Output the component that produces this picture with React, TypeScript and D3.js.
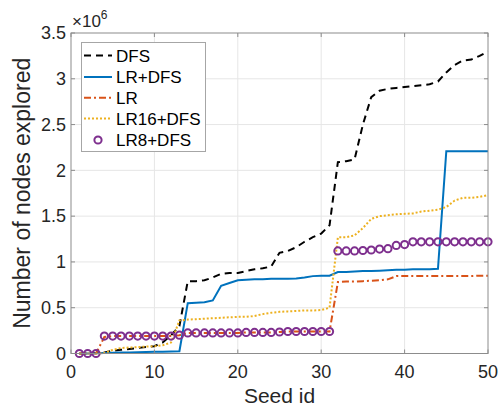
import React, { useEffect, useRef } from "react";
import * as d3 from "d3";

// seed ids 1..50, values in millions of nodes
const seedIds = d3.range(1, 51);

const dfs = [
  0, 0, 0.005, 0.01, 0.03, 0.04, 0.05, 0.06, 0.07, 0.08,
  0.12, 0.2, 0.3, 0.79, 0.79, 0.8, 0.83, 0.87, 0.88, 0.88,
  0.9, 0.92, 0.93, 0.95, 1.1, 1.12, 1.16, 1.22, 1.27, 1.31,
  1.4, 2.09, 2.1, 2.12, 2.5, 2.8, 2.87, 2.89, 2.9, 2.91,
  2.92, 2.93, 2.94, 2.97, 3.07, 3.15, 3.2, 3.21, 3.25, 3.3,
];

const lrDfs = [
  0, 0, 0.002, 0.005, 0.008, 0.01, 0.012, 0.015, 0.017, 0.018,
  0.02, 0.022, 0.025, 0.55, 0.555, 0.56, 0.58, 0.74, 0.77, 0.8,
  0.805, 0.81, 0.81, 0.815, 0.815, 0.815, 0.82, 0.83, 0.845, 0.85,
  0.85, 0.89, 0.89, 0.895, 0.9, 0.9, 0.905, 0.91, 0.915, 0.915,
  0.92, 0.92, 0.92, 0.925, 2.21, 2.21, 2.21, 2.21, 2.21, 2.21,
];

const lr = [
  0, 0, 0, 0.18, 0.19, 0.19, 0.19, 0.19, 0.19, 0.19,
  0.19, 0.19, 0.2, 0.225, 0.225, 0.225, 0.225, 0.225, 0.225, 0.225,
  0.23, 0.23, 0.23, 0.23, 0.235, 0.24, 0.24, 0.24, 0.24, 0.24,
  0.24, 0.78, 0.785, 0.785, 0.79, 0.795, 0.8, 0.81, 0.845, 0.845,
  0.845, 0.845, 0.845, 0.845, 0.845, 0.845, 0.845, 0.845, 0.85, 0.85,
];

const lr16Dfs = [
  0, 0, 0, 0.005, 0.04, 0.06, 0.065, 0.07, 0.075, 0.08,
  0.09, 0.12, 0.36, 0.37, 0.375, 0.38, 0.385, 0.39, 0.395, 0.4,
  0.4, 0.41, 0.43, 0.445, 0.455, 0.46, 0.465, 0.47, 0.47, 0.475,
  0.5, 1.27, 1.27, 1.29, 1.37, 1.47, 1.5, 1.51, 1.52, 1.525,
  1.53, 1.55, 1.56, 1.57, 1.6, 1.67, 1.7, 1.7, 1.71, 1.73,
];

const lr8Dfs = [
  0, 0, 0, 0.19, 0.19, 0.19, 0.19, 0.19, 0.19, 0.19,
  0.19, 0.19, 0.2, 0.225, 0.225, 0.225, 0.225, 0.225, 0.225, 0.225,
  0.23, 0.23, 0.23, 0.23, 0.235, 0.24, 0.24, 0.24, 0.24, 0.24,
  0.24, 1.12, 1.12, 1.12, 1.125, 1.13, 1.14, 1.145, 1.18, 1.19,
  1.22, 1.22, 1.22, 1.22, 1.22, 1.22, 1.22, 1.22, 1.22, 1.22,
];

const xTicks = [0, 10, 20, 30, 40, 50];
const yTicks = [0, 0.5, 1, 1.5, 2, 2.5, 3, 3.5];
const yTickLabels = ["0", "0.5", "1", "1.5", "2", "2.5", "3", "3.5"];

const series = [
  { name: "DFS", values: dfs, color: "#000000", dash: "7,5", marker: false },
  { name: "LR+DFS", values: lrDfs, color: "#0072BD", dash: null, marker: false },
  { name: "LR", values: lr, color: "#D95319", dash: "7,3,2,3", marker: false },
  { name: "LR16+DFS", values: lr16Dfs, color: "#EDB120", dash: "2,2", marker: false },
  { name: "LR8+DFS", values: lr8Dfs, color: "#7E2F8E", dash: null, marker: true },
];

const FONT = "'Liberation Sans', Arial, Helvetica, sans-serif";
const TEXT = "#262626";

export default function App() {
  const ref = useRef<SVGSVGElement>(null);
  const width = 502;
  const height = 407;
  const margin = { top: 33, right: 14, bottom: 53.5, left: 71 };

  useEffect(() => {
    const svg = d3.select(ref.current);
    svg.selectAll("*").remove();

    const x = d3
      .scaleLinear()
      .domain([0, 50])
      .range([margin.left, width - margin.right]);
    const y = d3
      .scaleLinear()
      .domain([0, 3.5])
      .range([height - margin.bottom, margin.top]);

    const x0 = x.range()[0],
      x1 = x.range()[1],
      y0 = y.range()[0],
      y1 = y.range()[1];

    svg.append("rect").attr("width", width).attr("height", height).attr("fill", "#fff");

    // grid
    const grid = svg.append("g").attr("stroke", "#e6e6e6").attr("stroke-width", 1);
    xTicks.slice(1, -1).forEach((t) =>
      grid.append("line").attr("x1", x(t)).attr("x2", x(t)).attr("y1", y0).attr("y2", y1)
    );
    yTicks.slice(1, -1).forEach((t) =>
      grid.append("line").attr("x1", x0).attr("x2", x1).attr("y1", y(t)).attr("y2", y(t))
    );

    // lines
    const line = d3
      .line<number>()
      .x((d, i) => x(seedIds[i]))
      .y((d) => y(d));

    const plot = svg.append("g");
    series.forEach((s) => {
      if (s.marker) {
        plot
          .append("g")
          .selectAll("circle")
          .data(s.values)
          .join("circle")
          .attr("cx", (d, i) => x(seedIds[i]))
          .attr("cy", (d) => y(d))
          .attr("r", 3.6)
          .attr("fill", "none")
          .attr("stroke", s.color)
          .attr("stroke-width", 2);
      } else {
        plot
          .append("path")
          .datum(s.values)
          .attr("d", line)
          .attr("fill", "none")
          .attr("stroke", s.color)
          .attr("stroke-width", 2)
          .attr("stroke-dasharray", s.dash);
      }
    });

    // box + ticks
    const axes = svg.append("g").attr("stroke", "#8c8c8c").attr("stroke-width", 1);
    axes
      .append("rect")
      .attr("x", x0)
      .attr("y", y1)
      .attr("width", x1 - x0)
      .attr("height", y0 - y1)
      .attr("fill", "none");
    xTicks.forEach((t) => {
      axes.append("line").attr("x1", x(t)).attr("x2", x(t)).attr("y1", y0).attr("y2", y0 - 4);
      axes.append("line").attr("x1", x(t)).attr("x2", x(t)).attr("y1", y1).attr("y2", y1 + 4);
    });
    yTicks.forEach((t) => {
      axes.append("line").attr("x1", x0).attr("x2", x0 + 4).attr("y1", y(t)).attr("y2", y(t));
      axes.append("line").attr("x1", x1).attr("x2", x1 - 4).attr("y1", y(t)).attr("y2", y(t));
    });

    // tick labels
    const labels = svg.append("g").attr("font-family", FONT).attr("fill", TEXT);
    xTicks.forEach((t) =>
      labels
        .append("text")
        .attr("x", x(t))
        .attr("y", y0 + 24.5)
        .attr("text-anchor", "middle")
        .attr("font-size", 18)
        .text(String(t))
    );
    yTicks.forEach((t, i) =>
      labels
        .append("text")
        .attr("x", x0 - 5)
        .attr("y", y(t))
        .attr("dy", "0.35em")
        .attr("text-anchor", "end")
        .attr("font-size", 18)
        .text(yTickLabels[i])
    );

    // exponent
    const ex = labels.append("text").attr("x", x0 + 1).attr("y", 27).attr("font-size", 17);
    ex.append("tspan").text("×10");
    ex.append("tspan").attr("font-size", 12).attr("dy", -8).text("6");

    // axis titles
    labels
      .append("text")
      .attr("x", (x0 + x1) / 2)
      .attr("y", 403)
      .attr("text-anchor", "middle")
      .attr("font-size", 21)
      .text("Seed id");
    labels
      .append("text")
      .attr("transform", `translate(30,${(y0 + y1) / 2}) rotate(-90)`)
      .attr("text-anchor", "middle")
      .attr("font-size", 23)
      .text("Number of nodes explored");

    // legend
    const lg = svg.append("g");
    lg.append("rect")
      .attr("x", 81.5)
      .attr("y", 42.5)
      .attr("width", 124)
      .attr("height", 109)
      .attr("fill", "#fff")
      .attr("stroke", "#a6a6a6")
      .attr("stroke-width", 1);
    const rowY = [55.5, 77, 97.7, 118.5, 140];
    series.forEach((s, i) => {
      const ry = rowY[i];
      if (s.marker) {
        lg.append("circle")
          .attr("cx", 98)
          .attr("cy", ry)
          .attr("r", 3.6)
          .attr("fill", "none")
          .attr("stroke", s.color)
          .attr("stroke-width", 2);
      } else {
        lg.append("line")
          .attr("x1", 84)
          .attr("x2", 112)
          .attr("y1", ry)
          .attr("y2", ry)
          .attr("stroke", s.color)
          .attr("stroke-width", 2)
          .attr("stroke-dasharray", s.dash);
      }
      lg.append("text")
        .attr("x", 116)
        .attr("y", ry)
        .attr("dy", "0.36em")
        .attr("font-family", FONT)
        .attr("font-size", 17)
        .attr("fill", "#000")
        .text(s.name);
    });
  }, []);

  return (
    <svg
      ref={ref}
      width={width}
      height={height}
      style={{ position: "absolute", left: 0, top: 0 }}
    />
  );
}
